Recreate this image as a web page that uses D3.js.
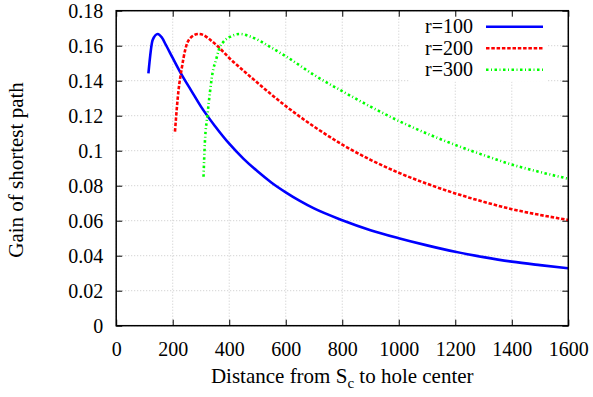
<!DOCTYPE html>
<html>
<head>
<meta charset="utf-8">
<script src="https://cdn.jsdelivr.net/npm/d3@7"></script>
<style>
  html, body { margin: 0; padding: 0; background: #fff; }
  svg { display: block; }
</style>
</head>
<body>
<div id="chart"></div>
<script>
// ---- data ----
const seriesNames = ["r=100", "r=200", "r=300"];
const r100 = [[114,0.1442],[129,0.1633],[147,0.1667],[161,0.1648],[176,0.1604],[200,0.1530],[232,0.1433],[265,0.1345],[300,0.1252],[350,0.1140],[400,0.1040],[450,0.0955],[500,0.0882],[550,0.0817],[600,0.0762],[650,0.0713],[700,0.0670],[800,0.0603],[900,0.0546],[1000,0.0500],[1100,0.0459],[1200,0.0422],[1300,0.0392],[1400,0.0366],[1500,0.0346],[1600,0.0328]];
const r200 = [[208,0.1109],[220,0.1337],[232,0.1471],[244,0.1575],[261,0.1642],[291,0.1667],[309,0.1661],[326,0.1642],[367,0.1585],[400,0.1530],[450,0.1458],[500,0.1388],[550,0.1320],[600,0.1255],[700,0.1138],[800,0.1035],[900,0.0948],[1000,0.0874],[1100,0.0811],[1200,0.0756],[1300,0.0708],[1400,0.0666],[1500,0.0633],[1600,0.0604]];
const r300 = [[309,0.0851],[314,0.1051],[323,0.1204],[332,0.1337],[344,0.1470],[350,0.1500],[367,0.1594],[380,0.1623],[403,0.1651],[438,0.1667],[470,0.1655],[509,0.1627],[550,0.1588],[600,0.1540],[700,0.1433],[800,0.1340],[900,0.1252],[1000,0.1170],[1100,0.1098],[1200,0.1033],[1300,0.0975],[1400,0.0921],[1500,0.0878],[1600,0.0840]];
const xTicks = [0,200,400,600,800,1000,1200,1400,1600];
const yTicks = [0,0.02,0.04,0.06,0.08,0.1,0.12,0.14,0.16,0.18];
const yTickLabels = ["0","0.02","0.04","0.06","0.08","0.1","0.12","0.14","0.16","0.18"];

// ---- layout ----
const W = 593, H = 397;
const L = 116.2, R = 568.3, T = 10.7, B = 325.7;
const FONT = "'Liberation Serif', 'Times New Roman', Times, Tinos, 'Noto Serif', 'DejaVu Serif', serif";

const svg = d3.select("#chart").append("svg").attr("width", W).attr("height", H);
const x = d3.scaleLinear().domain([0,1600]).range([L,R]);
const y = d3.scaleLinear().domain([0,0.18]).range([B,T]);

// grid
const grid = svg.append("g").attr("stroke", "#bcbcbc").attr("stroke-width", 0.8).attr("stroke-dasharray", "1,2");
xTicks.forEach(v => grid.append("line").attr("x1", x(v)).attr("x2", x(v)).attr("y1", B).attr("y2", T));
yTicks.forEach(v => grid.append("line").attr("x1", L).attr("x2", R).attr("y1", y(v)).attr("y2", y(v)));

// legend background (hides grid under key)
svg.append("rect").attr("x", 409).attr("y", T + 1).attr("width", 138).attr("height", 70).attr("fill", "#fff");

// axes with inward ticks (mirrored)
const tickLen = 6;
const fmtY = d => yTickLabels[yTicks.indexOf(d)];
const styleText = g => g.selectAll("text").style("font-family", FONT).style("font-size", "20px").attr("fill", "#000");
svg.append("g").attr("transform", `translate(0,${B})`)
  .call(d3.axisBottom(x).tickValues(xTicks).tickSizeInner(-tickLen).tickSizeOuter(0).tickPadding(16).tickFormat(d3.format("d")))
  .call(g => { g.select(".domain").remove(); styleText(g); g.selectAll("line").attr("stroke", "#000"); });
svg.append("g").attr("transform", `translate(0,${T})`)
  .call(d3.axisTop(x).tickValues(xTicks).tickSizeInner(-tickLen).tickSizeOuter(0).tickFormat(""))
  .call(g => { g.select(".domain").remove(); g.selectAll("line").attr("stroke", "#000"); });
svg.append("g").attr("transform", `translate(${L},0)`)
  .call(d3.axisLeft(y).tickValues(yTicks).tickSizeInner(-tickLen).tickSizeOuter(0).tickPadding(13).tickFormat(fmtY))
  .call(g => { g.select(".domain").remove(); styleText(g); g.selectAll("line").attr("stroke", "#000"); });
svg.append("g").attr("transform", `translate(${R},0)`)
  .call(d3.axisRight(y).tickValues(yTicks).tickSizeInner(-tickLen).tickSizeOuter(0).tickFormat(""))
  .call(g => { g.select(".domain").remove(); g.selectAll("line").attr("stroke", "#000"); });

// clip
svg.append("clipPath").attr("id", "clip").append("rect").attr("x", L).attr("y", T).attr("width", R - L).attr("height", B - T);

const line = d3.line().x(d => x(d[0])).y(d => y(d[1])).curve(d3.curveMonotoneX);
const styles = [
  {data: r100, color: "#0000ff", dash: null},
  {data: r200, color: "#ff0000", dash: "3.5,1.8"},
  {data: r300, color: "#00ff00", dash: "2.5,2.5,1,2.5"}
];
const plot = svg.append("g").attr("clip-path", "url(#clip)");
styles.forEach(s => {
  plot.append("path").datum(s.data).attr("d", line)
    .attr("fill", "none").attr("stroke", s.color).attr("stroke-width", 2.6)
    .attr("stroke-dasharray", s.dash).attr("stroke-linejoin", "miter");
});

// border
svg.append("rect").attr("x", L).attr("y", T).attr("width", R - L).attr("height", B - T)
  .attr("fill", "none").attr("stroke", "#000").attr("stroke-width", 1.5);

// legend
const legY = [26.7, 48.3, 69.7];
styles.forEach((s, i) => {
  svg.append("text").attr("x", 473).attr("y", legY[i]).attr("dy", "0.33em")
    .attr("text-anchor", "end").style("font-family", FONT).style("font-size", "20px").text(seriesNames[i]);
  svg.append("line").attr("x1", 486).attr("x2", 543).attr("y1", legY[i]).attr("y2", legY[i])
    .attr("stroke", s.color).attr("stroke-width", 2.6).attr("stroke-dasharray", s.dash);
});

// axis titles
const xt = svg.append("text").attr("x", (L + R) / 2).attr("y", 383).attr("text-anchor", "middle")
  .style("font-family", FONT).style("font-size", "21px");
xt.append("tspan").text("Distance from S");
xt.append("tspan").style("font-size", "15px").attr("dy", 5).text("c");
xt.append("tspan").attr("dy", -5).text(" to hole center");

svg.append("text").attr("transform", `translate(23,170) rotate(-90)`)
  .attr("text-anchor", "middle").style("font-family", FONT).style("font-size", "21px").text("Gain of shortest path");
</script>
</body>
</html>
